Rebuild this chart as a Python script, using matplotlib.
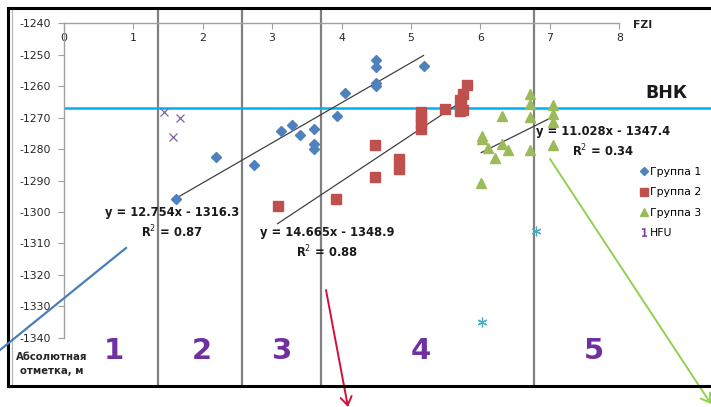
import numpy as np
import matplotlib
matplotlib.use('Agg')
import matplotlib.pyplot as plt
from matplotlib.lines import Line2D
from matplotlib.patches import FancyArrowPatch

plt.rcParams['font.family'] = ['DejaVu Sans']
plt.rcParams['axes.unicode_minus'] = False

# Группа 1
g1_x = [1.62, 2.20, 2.74, 3.13, 3.29, 3.40, 3.60, 3.60, 3.60, 3.93, 4.05, 4.49, 4.49, 4.49, 4.49, 5.18]
g1_y = [-1296.0, -1282.5, -1285.2, -1274.3, -1272.2, -1275.4, -1273.6, -1278.4, -1280.1,
        -1269.4, -1262.2, -1251.7, -1253.8, -1258.9, -1259.9, -1253.6]
# Группа 2
g2_x = [3.08, 3.92, 4.48, 4.48, 4.83, 4.83, 5.15, 5.15, 5.15, 5.15, 5.49, 5.70, 5.72, 5.75, 5.70, 5.75, 5.81]
g2_y = [-1298.1, -1295.9, -1278.6, -1289.0, -1283.3, -1286.4, -1268.1, -1269.9, -1271.8,
        -1273.7, -1267.3, -1267.9, -1266.0, -1267.6, -1264.4, -1262.6, -1259.7]
# Группа 3
g3_x = [6.01, 6.02, 6.02, 6.11, 6.21, 6.31, 6.31, 6.40, 6.71, 6.71, 6.71, 6.71, 7.04, 7.04, 7.04, 7.04]
g3_y = [-1290.7, -1275.8, -1276.9, -1279.8, -1282.8, -1269.5, -1278.4, -1280.4,
        -1262.4, -1265.6, -1269.7, -1280.3, -1266.0, -1268.8, -1271.3, -1278.7]
# extra series
hfu_x = [1.44, 1.57, 1.67]
hfu_y = [-1268.1, -1276.3, -1270.2]
s5_x = [6.02, 6.80]
s5_y = [-1335.1, -1306.0]

# trend lines
slopes = [12.754, 14.665, 11.028]
intercepts = [-1316.3, -1348.9, -1347.4]
r2_values = [0.87, 0.88, 0.34]
eq_pos_x = [1.56, 3.79, 7.76]
eq_pos_y = [-1303.7, -1310.0, -1277.8]

# zones
zone_bounds = [1.355, 2.573, 3.705, 6.766]
zone_labels = ['1', '2', '3', '4', '5']
zone_label_x = [0.73, 1.99, 3.14, 5.14, 7.63]
zone_label_y = -1344.2
vnk_level = -1267.0

x_ticks = list(range(0, 9))
y_ticks = list(range(-1340, -1239, 10))

W, H = 711, 407
fig = plt.figure(figsize=(W / 100, H / 100), dpi=100)
ax = fig.add_axes([8 / W, 1 - 386 / H, 1 - 8 / W, (386 - 8) / H])

ax.set_xlim(-0.799, 9.317)
ax.set_ylim(-1355.36, -1235.13)

# zone boundaries
for xb in zone_bounds:
    ax.axvline(xb, color='#808080', lw=1.6, zorder=1)

# ВНК
ax.hlines(vnk_level, 0, 9.317, color='#00b0f0', lw=1.8, zorder=2)

ax.plot(g1_x, g1_y, 'D', color='#4f81bd', ms=5.5, mec='#4f81bd', zorder=4)
ax.plot(g2_x, g2_y, 's', color='#c0504d', ms=6.5, mec='#c0504d', zorder=4)
ax.plot(g3_x, g3_y, '^', color='#9bbb59', ms=7, mec='#9bbb59', zorder=4)
ax.plot(hfu_x, hfu_y, 'x', color='#8064a2', ms=6, mew=0.9, zorder=4)
ax.plot(s5_x, s5_y, marker=(6, 2, 0), ls='none', color='#4bacc6', ms=7, mew=0.9, zorder=4)

groups_x = [g1_x, g2_x, g3_x]
for gx, k, b, r2, tx, ty in zip(groups_x, slopes, intercepts, r2_values, eq_pos_x, eq_pos_y):
    xs = np.array([min(gx), max(gx)])
    ax.plot(xs, k * xs + b, color='#404040', lw=0.9, zorder=3)
    ax.text(tx, ty, 'y = %.3fx - %.1f\nR$^2$ = %.2f' % (k, -b, r2), ha='center', va='center',
            fontsize=8.3, fontweight='bold', color='#1a1a1a', linespacing=1.35, zorder=5)

for lbl, lx in zip(zone_labels, zone_label_x):
    ax.text(lx, zone_label_y, lbl, ha='center', va='center', fontsize=21,
            fontweight='bold', color='#7030a0')

# axes lines
for s in ['top', 'right']:
    ax.spines[s].set_visible(False)
ax.spines['left'].set_position(('data', 0))
ax.spines['left'].set_bounds(-1340, -1240)
ax.spines['bottom'].set_position(('data', -1240))
ax.spines['bottom'].set_bounds(0, 8)
for s in ['left', 'bottom']:
    ax.spines[s].set_color('#a0a0a0')
    ax.spines[s].set_linewidth(1.0)
ax.set_xticks(x_ticks)
ax.set_yticks(y_ticks)
ax.tick_params(axis='both', direction='out', length=4, color='#a0a0a0', labelsize=7.8,
               labelcolor='#262626')
ax.tick_params(axis='x', pad=3)
ax.tick_params(axis='y', pad=5)
ax.set_facecolor('white')

ax.text(8.2, -1240.5, 'FZI', fontsize=7.8, fontweight='bold', color='#262626', va='center', ha='left')
ax.text(8.68, -1262.3, 'ВНК', fontsize=12.5, fontweight='bold', color='#1a1a1a', ha='center', va='center')
ax.text(-0.17, -1348.4, 'Абсолютная\nотметка, м', fontsize=7.3, fontweight='bold', color='#262626',
        ha='center', va='center', linespacing=1.45)

# legend
handles = [
    Line2D([], [], marker='D', ls='none', color='#4f81bd', ms=4.5),
    Line2D([], [], marker='s', ls='none', color='#c0504d', ms=6),
    Line2D([], [], marker='^', ls='none', color='#9bbb59', ms=6),
    Line2D([], [], marker='$1$', ls='none', color='#7030a0', ms=6, mew=0.3),
]
fig.legend(handles, ['Группа 1', 'Группа 2', 'Группа 3', 'HFU'], loc='upper left',
           bbox_to_anchor=(640 / W, 1 - 167 / H), frameon=False, fontsize=7.8,
           handlelength=0.7, handletextpad=0.25, labelspacing=0.95, borderpad=0,
           borderaxespad=0)

# frame
fig.add_artist(Line2D([8 / W, 1], [1 - 8 / H, 1 - 8 / H], color='black', lw=2.2))
fig.add_artist(Line2D([8 / W, 1], [1 - 386 / H, 1 - 386 / H], color='black', lw=2.2))
fig.add_artist(Line2D([8 / W, 8 / W], [1 - 386 / H, 1 - 8 / H], color='black', lw=2.2))
fig.add_artist(Line2D([12 / W, 12 / W], [1 - 384 / H, 1 - 10 / H], color='#b0b0b0', lw=0.8))

# pointer arrows to other figures
arrow_start = [(126, 248), (326, 290), (550, 159)]
arrow_end = [(0, 350), (348, 407), (711, 404)]
arrow_color = ['#4a7ebb', '#d0103a', '#92d050']
arrow_head = [False, True, True]
for (x0, y0), (x1, y1), c, head in zip(arrow_start, arrow_end, arrow_color, arrow_head):
    p0 = (x0 / W, 1 - y0 / H)
    p1 = (x1 / W, 1 - y1 / H)
    if head:
        arr = FancyArrowPatch(p0, p1, transform=fig.transFigure, arrowstyle='->,head_length=6,head_width=4',
                              color=c, lw=1.4, shrinkA=0, shrinkB=0)
        fig.add_artist(arr)
    else:
        fig.add_artist(Line2D([p0[0], p1[0]], [p0[1], p1[1]], color=c, lw=1.6))

fig.savefig('out.png', dpi=100)
